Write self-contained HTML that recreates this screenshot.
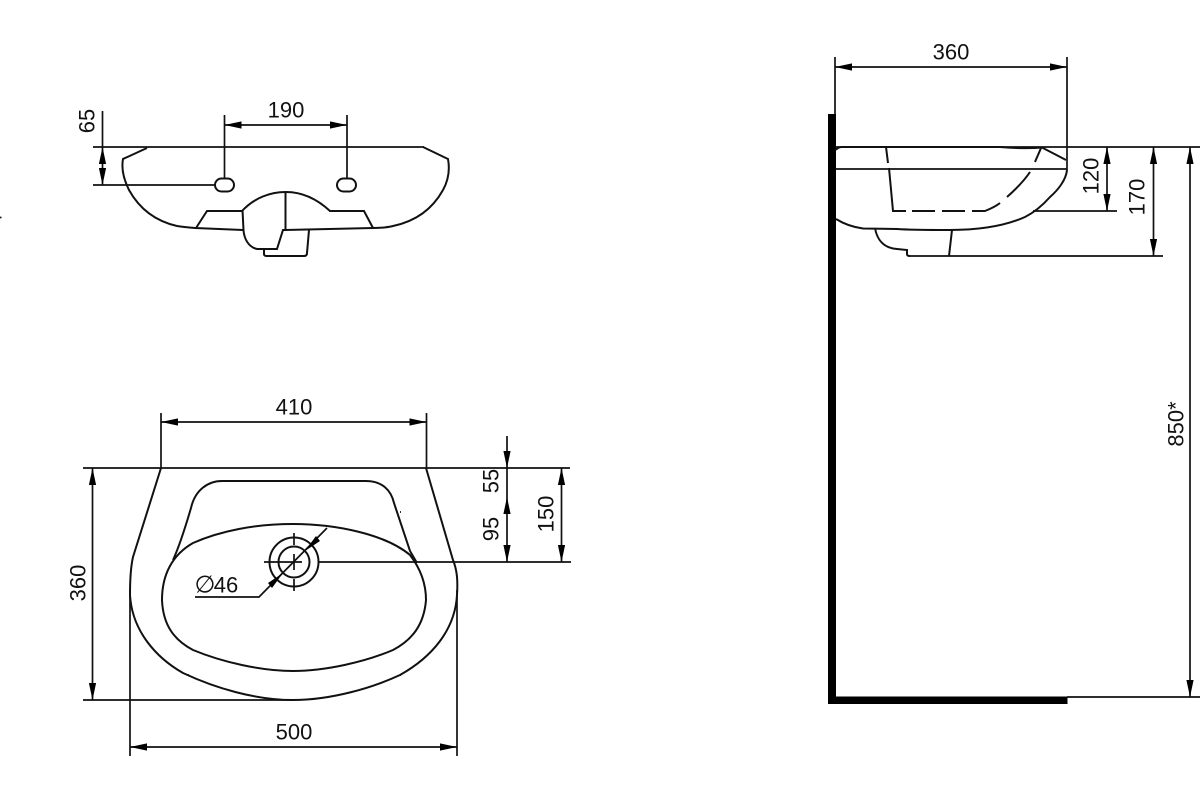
<!DOCTYPE html>
<html>
<head>
<meta charset="utf-8">
<style>
html,body{margin:0;padding:0;background:#fff;width:1200px;height:800px;overflow:hidden}
svg{display:block}
text{font-family:"Liberation Sans",sans-serif;font-size:22px;fill:#111;text-anchor:middle;dominant-baseline:central}
.l{fill:none;stroke:#111;stroke-width:2}
.t{fill:none;stroke:#111;stroke-width:1.7}
.a{fill:#000;stroke:none}
</style>
</head>
<body>
<svg width="1200" height="800" viewBox="0 0 1200 800" xmlns="http://www.w3.org/2000/svg">
<defs>
<polygon id="ar" class="a" points="0,0 17,-3.600 17,3.600"/>
</defs>
<path class="t" d="M0 217.500h1.500"/>

<!-- Top-left view -->
<g>
<path class="t" d="M93 147H424M93 185H215M102.500 111V185M224.500 115V178M347 115V178M224.500 125H347"/>
<use href="#ar" transform="translate(224.500 125)"/>
<use href="#ar" transform="translate(347 125) rotate(180)"/>
<use href="#ar" transform="translate(102.500 147) rotate(90)"/>
<use href="#ar" transform="translate(102.500 185) rotate(-90)"/>
<path class="l" d="M147 148L123 159C121 170 124 180 129 190C139 208 155 221 177 226C183 227 189 227.500 195 228L243 230"/>
<path class="l" d="M423 147L448 159C450 170 448 181 443 190C433 208 417 221 393 226C387 227.500 380 228 373 228L285 230"/>
<rect class="l" x="215" y="178.500" width="19" height="13" rx="6.500"/>
<rect class="l" x="337" y="178.500" width="19" height="13" rx="6.500"/>
<path class="l" d="M196 228L207 211H242C254 198 270 192 286 192C303 192 317 199 330 211H364L373 228"/>
<path class="l" d="M285.500 192V230L283 230L277 249H257C248 247 244 238 243.500 230L242.500 210"/>
<path class="l" d="M264 249V254Q264 256 267 256H304Q307 256 307 253L309 230"/>
<text x="286" y="110">190</text>
<text transform="translate(87 121) rotate(-90)">65</text>
</g>

<!-- Bottom-left view -->
<g>
<path class="t" d="M83 468H570M161 413V468M426.500 413V468M161 422H426.500M92.500 468V700M83 700H293M130 590V756M457 590V756M130 747H457M318 562H571M507 436V562M561.500 468V562"/>
<use href="#ar" transform="translate(161 422)"/>
<use href="#ar" transform="translate(426.500 422) rotate(180)"/>
<use href="#ar" transform="translate(92.500 468) rotate(90)"/>
<use href="#ar" transform="translate(92.500 700) rotate(-90)"/>
<use href="#ar" transform="translate(130 747)"/>
<use href="#ar" transform="translate(457 747) rotate(180)"/>
<use href="#ar" transform="translate(507 468) rotate(-90)"/>
<use href="#ar" transform="translate(507 497) rotate(90)"/>
<use href="#ar" transform="translate(507 562) rotate(-90)"/>
<use href="#ar" transform="translate(561.500 468) rotate(90)"/>
<use href="#ar" transform="translate(561.500 562) rotate(-90)"/>

<path class="l" d="M161 468L133 557C130 570 130 585 130 595C132 630 155 657 183 673C215 688 255 700 293 700C331 700 372 688 400 675C432 657 455 630 457 595C458 580 457 570 453 560L426 468"/>
<path class="l" d="M173 560C180 545 186 525 191 508C195 490 208 481 222 481H366C382 481 391 490 394 503L410 551L417 563"/>
<path class="l" d="M162 600C162 575 172 555 193 543C220 531 255 524 293 524C335 524 385 534 410 555C420 568 426 582 426 600C424 625 412 640 393 650C365 662 325 671 293 671C261 671 222 662 193 650C174 640 163 625 162 600Z"/>
<circle class="l" cx="294" cy="562" r="24.500"/>
<circle class="l" cx="294" cy="562" r="15.500"/>
<path class="t" d="M264 562H286M294 533V545M294 554V570M294 579V591M286 562H302"/>
<path class="t" d="M327 528L259 597H195"/>
<polygon class="a" points="305,551 320,541 316,536"/>
<polygon class="a" points="283,573 268,583 272,588"/>
<text x="294" y="407">410</text>
<text x="294" y="732">500</text>
<text transform="translate(78 583) rotate(-90)">360</text>
<text transform="translate(491 481) rotate(-90)">55</text>
<text transform="translate(491 529) rotate(-90)">95</text>
<text transform="translate(546 514) rotate(-90)">150</text>
<text x="226" y="585">46</text>
<text x="205" y="585" style="font-size:24px">∅</text>
<path class="t" d="M188 675h1M400 675h1M400 512h1"/>
</g>

<!-- Right view -->
<g>
<rect x="828" y="114" width="8" height="590" fill="#000"/>
<rect x="828" y="696.500" width="239.500" height="7.500" fill="#000"/>
<path class="t" d="M836 147H1200M836 169H1067M835 57V114M1067 57V170M835 67H1067M1033 211H1117M909 256H1163M1067 697H1200M1107 147V211M1153.500 147V256M1190 147V697"/>
<use href="#ar" transform="translate(835 67)"/>
<use href="#ar" transform="translate(1067 67) rotate(180)"/>
<use href="#ar" transform="translate(1107 147) rotate(90)"/>
<use href="#ar" transform="translate(1107 211) rotate(-90)"/>
<use href="#ar" transform="translate(1153.500 147) rotate(90)"/>
<use href="#ar" transform="translate(1153.500 256) rotate(-90)"/>
<use href="#ar" transform="translate(1190 147) rotate(90)"/>
<use href="#ar" transform="translate(1190 697) rotate(-90)"/>
<path class="l" d="M836 150Q838 147 842 147H1000Q1025 149 1042 147.500L1066 160"/>
<path class="l" d="M1067 170C1066 180 1058 190 1050 197C1042 206 1035 212 1025 217C1005 226 980 230 950 230C930 230 910 230 897 229L863 228.500C852 227 844 224 836 219"/>
<path class="l" d="M875 228C877 240 884 248 897 249L907 250V254Q907 256 910 256M952 230L949 256"/>
<path class="l" d="M886 147L888 163M889 168L893 211H906M912 211H935M942 211H965M972 211H985C990 209 995 207 1000 203M1007 197C1016 189 1024 181 1030 172M1035 162C1037 157 1039 153 1041 148"/>
<text x="951" y="52">360</text>
<text transform="translate(1091 176) rotate(-90)">120</text>
<text transform="translate(1137 197) rotate(-90)">170</text>
<text transform="translate(1176 424) rotate(-90)">850*</text>
</g>
</svg>
</body>
</html>
